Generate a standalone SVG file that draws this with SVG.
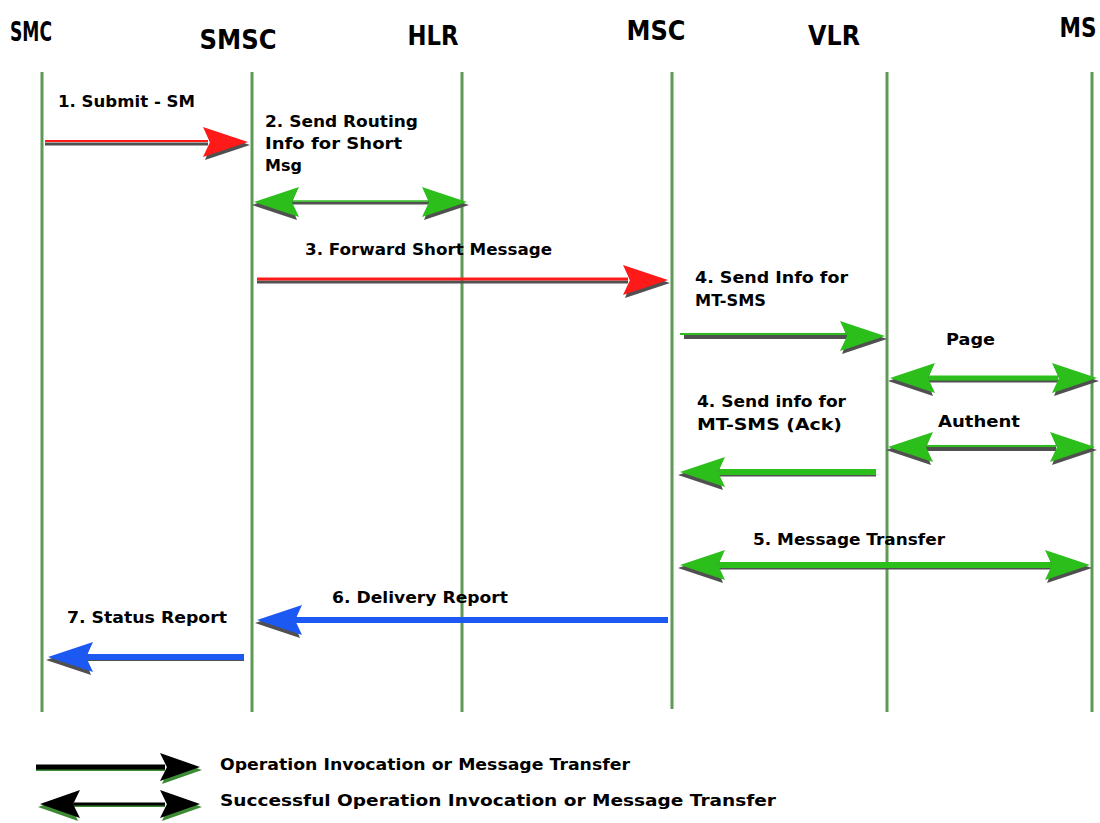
<svg xmlns="http://www.w3.org/2000/svg" xmlns:xlink="http://www.w3.org/1999/xlink" width="1100" height="823" viewBox="0 0 1100 823">
  <style>
    .hdr { font-family: "DejaVu Sans Condensed", "Liberation Sans", Arial, sans-serif; font-stretch: condensed; font-weight: bold; font-size: 26px; fill: #000; }
    .lbl { font-family: "DejaVu Sans", Verdana, sans-serif; font-weight: bold; font-size: 16px; fill: #000; }
    .life { stroke: #5e9a55; stroke-width: 3; fill: none; }
    .shadow { stroke: #505050; fill: none; }
    .red { stroke: #ff1a1a; fill: none; }
    .green { stroke: #2cbf1c; fill: none; }
    .blue { stroke: #1c58f2; fill: none; }
    .black { stroke: #000; fill: none; }
  </style>
  <defs>
    <!-- right-pointing arrowhead, tip at origin; colour comes from the <use> fill -->
    <g id="head">
      <polygon points="2,3 -43,-12 -37,3 -43,18" fill="#505050"/>
      <polygon points="0,0 -45,-15 -38,0 -45,15"/>
    </g>
    <g id="headK">
      <polygon points="2,3 -38,-11 -32,3 -38,17" fill="#3c8a34"/>
      <polygon points="0,0 -40,-14 -33,0 -40,14"/>
    </g>
  </defs>

  <rect x="0" y="0" width="1100" height="823" fill="#fff"/>

  <!-- entities with their lifelines -->
  <g id="smc"><text class="hdr" x="31" y="41" text-anchor="middle" textLength="42" lengthAdjust="spacingAndGlyphs">SMC</text><line class="life" x1="42" y1="72" x2="42" y2="712"/></g>
  <g id="smsc"><text class="hdr" x="238" y="49" text-anchor="middle" textLength="77" lengthAdjust="spacingAndGlyphs">SMSC</text><line class="life" x1="252" y1="72" x2="252" y2="712"/></g>
  <g id="hlr"><text class="hdr" x="433" y="45" text-anchor="middle" textLength="51" lengthAdjust="spacingAndGlyphs">HLR</text><line class="life" x1="462" y1="72" x2="462" y2="712"/></g>
  <g id="msc"><text class="hdr" x="656" y="40" text-anchor="middle" textLength="59" lengthAdjust="spacingAndGlyphs">MSC</text><line class="life" x1="672" y1="72" x2="672" y2="709"/></g>
  <g id="vlr"><text class="hdr" x="834" y="45" text-anchor="middle" textLength="52" lengthAdjust="spacingAndGlyphs">VLR</text><line class="life" x1="887" y1="72" x2="887" y2="712"/></g>
  <g id="ms"><text class="hdr" x="1078" y="37" text-anchor="middle" textLength="37" lengthAdjust="spacingAndGlyphs">MS</text><line class="life" x1="1092" y1="72" x2="1092" y2="712"/></g>

  <!-- message connectors -->
  <g id="connectors">
    <!-- 1. Submit - SM -->
    <line class="shadow" x1="45" y1="144" x2="208" y2="144" stroke-width="3"/>
    <line class="red" x1="45" y1="141" x2="208" y2="141" stroke-width="2"/>
    <use xlink:href="#head" x="248" y="142" fill="#ff1a1a"/>

    <!-- 2. Send Routing Info for Short Msg -->
    <line class="shadow" x1="290" y1="203" x2="430" y2="203" stroke-width="3"/>
    <line class="green" x1="290" y1="201" x2="430" y2="201" stroke-width="1.5"/>
    <use xlink:href="#head" transform="translate(254,202) scale(-1,1)" fill="#2cbf1c"/>
    <use xlink:href="#head" x="467" y="202" fill="#2cbf1c"/>

    <!-- 3. Forward Short Message -->
    <line class="shadow" x1="257" y1="282" x2="628" y2="282" stroke-width="3"/>
    <line class="red" x1="257" y1="279" x2="628" y2="279" stroke-width="3"/>
    <use xlink:href="#head" x="668" y="280" fill="#ff1a1a"/>

    <!-- 4. Send Info for MT-SMS -->
    <line class="shadow" x1="684" y1="337" x2="848" y2="337" stroke-width="4"/>
    <line class="green" x1="680" y1="334" x2="848" y2="334" stroke-width="2"/>
    <use xlink:href="#head" x="885" y="336" fill="#2cbf1c"/>

    <!-- Page -->
    <line class="shadow" x1="928" y1="381" x2="1058" y2="381" stroke-width="3"/>
    <line class="green" x1="928" y1="378" x2="1058" y2="378" stroke-width="5"/>
    <use xlink:href="#head" transform="translate(890,378) scale(-1,1)" fill="#2cbf1c"/>
    <use xlink:href="#head" x="1097" y="378" fill="#2cbf1c"/>

    <!-- Authent -->
    <line class="shadow" x1="926" y1="449" x2="1056" y2="449" stroke-width="4"/>
    <line class="green" x1="926" y1="446" x2="1056" y2="446" stroke-width="2"/>
    <use xlink:href="#head" transform="translate(888,447) scale(-1,1)" fill="#2cbf1c"/>
    <use xlink:href="#head" x="1095" y="447" fill="#2cbf1c"/>

    <!-- 4. Send info for MT-SMS (Ack) -->
    <line class="shadow" x1="718" y1="475" x2="876" y2="475" stroke-width="3"/>
    <line class="green" x1="718" y1="472" x2="876" y2="472" stroke-width="6"/>
    <use xlink:href="#head" transform="translate(680,472) scale(-1,1)" fill="#2cbf1c"/>

    <!-- 5. Message Transfer -->
    <line class="shadow" x1="718" y1="568" x2="1052" y2="568" stroke-width="3"/>
    <line class="green" x1="718" y1="565" x2="1052" y2="565" stroke-width="6"/>
    <use xlink:href="#head" transform="translate(680,565) scale(-1,1)" fill="#2cbf1c"/>
    <use xlink:href="#head" x="1090" y="565" fill="#2cbf1c"/>

    <!-- 6. Delivery Report -->
    <line class="shadow" x1="295" y1="622" x2="668" y2="622" stroke-width="2"/>
    <line class="blue" x1="295" y1="620" x2="668" y2="620" stroke-width="6"/>
    <use xlink:href="#head" transform="translate(257,620) scale(-1,1)" fill="#1c58f2"/>

    <!-- 7. Status Report -->
    <line class="shadow" x1="84" y1="660" x2="244" y2="660" stroke-width="2"/>
    <line class="blue" x1="84" y1="657" x2="244" y2="657" stroke-width="6"/>
    <use xlink:href="#head" transform="translate(48,657) scale(-1,1)" fill="#1c58f2"/>
  </g>

  <!-- message labels -->
  <g id="labels">
    <text class="lbl" x="58" y="107" textLength="137" lengthAdjust="spacingAndGlyphs">1. Submit - SM</text>
    <text class="lbl" x="265" y="127" textLength="153" lengthAdjust="spacingAndGlyphs">2. Send Routing</text>
    <text class="lbl" x="265" y="149" textLength="137" lengthAdjust="spacingAndGlyphs">Info for Short</text>
    <text class="lbl" x="265" y="171">Msg</text>
    <text class="lbl" x="305" y="255" textLength="247" lengthAdjust="spacingAndGlyphs">3. Forward Short Message</text>
    <text class="lbl" x="695" y="283" textLength="153" lengthAdjust="spacingAndGlyphs">4. Send Info for</text>
    <text class="lbl" x="695" y="306" textLength="71" lengthAdjust="spacingAndGlyphs">MT-SMS</text>
    <text class="lbl" x="946" y="345" textLength="49" lengthAdjust="spacingAndGlyphs">Page</text>
    <text class="lbl" x="697" y="407" textLength="149" lengthAdjust="spacingAndGlyphs">4. Send info for</text>
    <text class="lbl" x="697" y="430" textLength="145" lengthAdjust="spacingAndGlyphs">MT-SMS (Ack)</text>
    <text class="lbl" x="938" y="427" textLength="82" lengthAdjust="spacingAndGlyphs">Authent</text>
    <text class="lbl" x="753" y="545" textLength="192" lengthAdjust="spacingAndGlyphs">5. Message Transfer</text>
    <text class="lbl" x="332" y="603" textLength="176" lengthAdjust="spacingAndGlyphs">6. Delivery Report</text>
    <text class="lbl" x="67" y="623" textLength="160" lengthAdjust="spacingAndGlyphs">7. Status Report</text>
  </g>

  <!-- legend -->
  <g id="legend">
    <line x1="36" y1="770" x2="165" y2="770" stroke="#3c8a34" stroke-width="2"/>
    <line class="black" x1="36" y1="767" x2="165" y2="767" stroke-width="5"/>
    <use xlink:href="#headK" x="200" y="767" fill="#000"/>
    <text class="lbl" x="220" y="770" textLength="410" lengthAdjust="spacingAndGlyphs">Operation Invocation or Message Transfer</text>

    <line x1="70" y1="806" x2="165" y2="806" stroke="#3c8a34" stroke-width="2"/>
    <line class="black" x1="70" y1="804" x2="165" y2="804" stroke-width="3"/>
    <use xlink:href="#headK" transform="translate(40,804) scale(-1,1)" fill="#000"/>
    <use xlink:href="#headK" x="200" y="804" fill="#000"/>
    <text class="lbl" x="220" y="806" textLength="556" lengthAdjust="spacingAndGlyphs">Successful Operation Invocation or Message Transfer</text>
  </g>
</svg>
